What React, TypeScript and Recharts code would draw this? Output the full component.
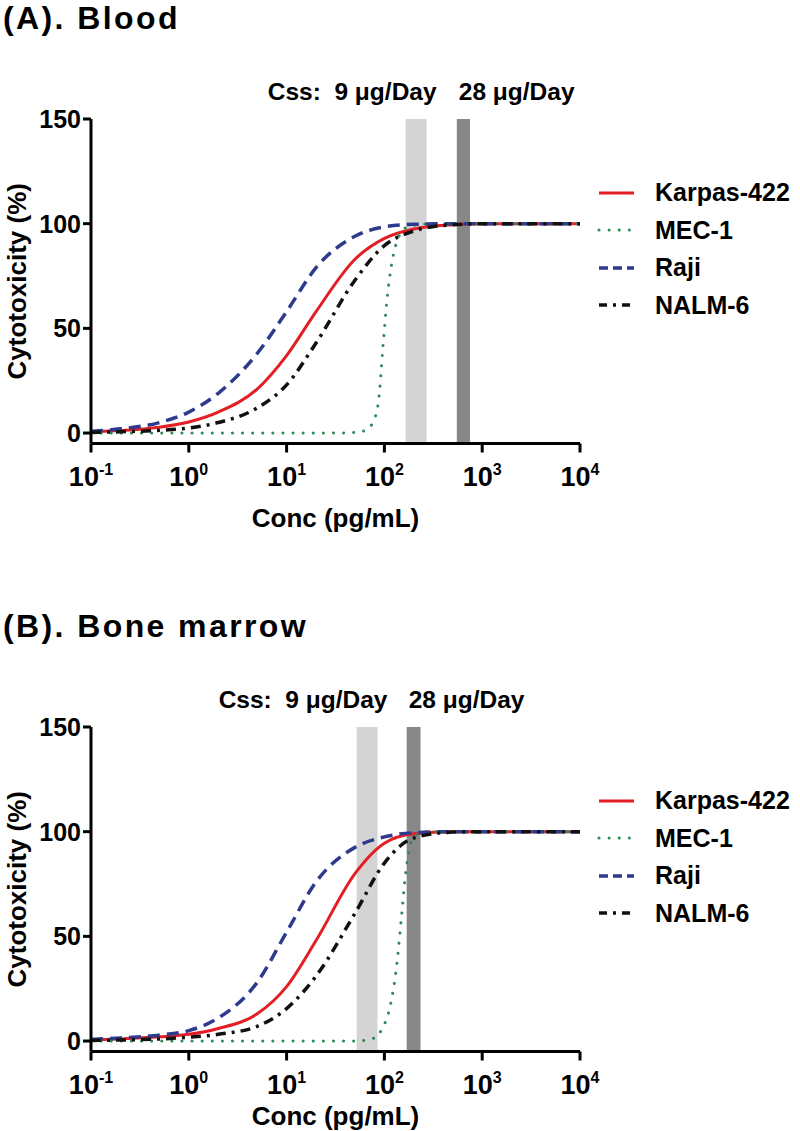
import React from 'react';
import { LineChart, Line, XAxis, YAxis, ReferenceArea, Legend } from 'recharts';

const FONT = '"Liberation Sans", Arial, Helvetica, sans-serif';

// ---------- data ----------
const xTicks = [0.1, 1, 10, 100, 1000, 10000];
const yTicks = [0, 50, 100, 150];
const seriesNames = ['Karpas-422', 'MEC-1', 'Raji', 'NALM-6'];
const doseLabels = ['Css:\u00A0 9 \u03BCg/Day', '28 \u03BCg/Day'];
const panelTitles = ['(A). Blood', '(B). Bone marrow'];

// concentration grid (pg/mL) used by the smooth curves
const CONC = [0.1, 0.2, 0.5, 1, 2, 5, 10, 20, 50, 100, 200, 500, 1000, 10000];

// (A) Blood
const bloodKarpas = [0.6, 1.2, 2.8, 5.3, 10, 21, 37, 58, 83, 93, 97.5, 99.5, 100, 100];
const bloodRaji = [0.8, 2, 5, 10, 19, 38, 58, 79, 94, 98.5, 99.7, 100, 100, 100];
const bloodNalm = [0.3, 0.6, 1.3, 2.4, 5, 12, 23, 43, 73, 89.5, 96.5, 99.5, 100, 100];
const bloodMecConc = [0.1, 1, 10, 30, 52, 65, 76, 87, 97, 107, 118, 133, 152, 175, 250, 300, 1000, 10000];
const bloodMec = [0, 0, 0, 0, 0.3, 1.5, 5, 15, 42, 65, 80, 91, 96.5, 98.5, 99.8, 100, 100, 100];
const bloodLow = [165, 270];
const bloodHigh = [550, 750];

// (B) Bone marrow
const marrowKarpas = [0.5, 1, 2, 3.2, 6, 13, 26, 48, 80, 94.5, 99, 100, 100, 100];
const marrowRaji = [0.8, 1.5, 2.8, 5, 11, 28, 52, 76, 92.5, 97.5, 99.5, 100, 100, 100];
const marrowNalm = [0.3, 0.5, 1, 1.8, 3.2, 7, 15.5, 31, 61, 85, 97, 99.8, 100, 100];
const marrowMecConc = [0.1, 1, 10, 50, 80, 95, 115, 135, 150, 165, 180, 200, 250, 300, 1000, 10000];
const marrowMec = [0, 0, 0, 0, 1.5, 6, 17, 38, 60, 80, 92, 97.5, 99.8, 100, 100, 100];
const marrowLow = [52, 85];
const marrowHigh = [169, 234];

// ---------- styles ----------
type Sty = { stroke: string; width: number; dash?: string; cap: 'round' | 'butt'; legendDash?: string };
const STYLES: Record<string, Sty> = {
  'Karpas-422': { stroke: '#e31e24', width: 3, cap: 'butt' },
  'MEC-1': { stroke: '#2e8b57', width: 3, dash: '0.1 10', cap: 'round', legendDash: '0.1 10' },
  Raji: { stroke: '#2e3a8c', width: 3.5, dash: '12 7', cap: 'butt', legendDash: '9 5' },
  'NALM-6': { stroke: '#111111', width: 3.5, dash: '10 6 3 6', cap: 'butt', legendDash: '8 6 3 6' },
};

type Series = { name: string; conc: number[]; values: number[] };

const toPoints = (conc: number[], values: number[]) => conc.map((c, i) => ({ conc: c, y: values[i] }));

const bloodSeries: Series[] = [
  { name: seriesNames[0], conc: CONC, values: bloodKarpas },
  { name: seriesNames[1], conc: bloodMecConc, values: bloodMec },
  { name: seriesNames[2], conc: CONC, values: bloodRaji },
  { name: seriesNames[3], conc: CONC, values: bloodNalm },
];
const marrowSeries: Series[] = [
  { name: seriesNames[0], conc: CONC, values: marrowKarpas },
  { name: seriesNames[1], conc: marrowMecConc, values: marrowMec },
  { name: seriesNames[2], conc: CONC, values: marrowRaji },
  { name: seriesNames[3], conc: CONC, values: marrowNalm },
];

// ---------- custom renderers ----------
const XTick = (props: any) => {
  const { x, y, payload } = props;
  const exp = Math.round(Math.log10(payload.value));
  return (
    <text x={x} y={y + 33.5} textAnchor="middle" fontFamily={FONT} fontWeight="bold" fontSize={27} fill="#000">
      <tspan>10</tspan>
      <tspan dy={-11} fontSize={16}>{String(exp)}</tspan>
    </text>
  );
};

const YTick = (props: any) => {
  const { x, y, payload } = props;
  return (
    <text x={x} y={y} dy={9} textAnchor="end" fontFamily={FONT} fontWeight="bold" fontSize={25} fill="#000">
      {payload.value}
    </text>
  );
};

const makeXLabel = (offset: number) => (props: any) => {
  const vb = props.viewBox;
  return (
    <text x={vb.x + vb.width / 2} y={vb.y + offset} textAnchor="middle" fontFamily={FONT} fontWeight="bold" fontSize={26} fill="#000">
      Conc (pg/mL)
    </text>
  );
};

const YLabel = (props: any) => {
  const vb = props.viewBox;
  const cx = 17;
  const cy = vb.y + vb.height / 2;
  return (
    <text
      x={cx}
      y={cy}
      transform={`rotate(-90 ${cx} ${cy})`}
      textAnchor="middle"
      dominantBaseline="central"
      fontFamily={FONT}
      fontWeight="bold"
      fontSize={26}
      fill="#000"
    >
      Cytotoxicity (%)
    </text>
  );
};

const LowLabel = (props: any) => {
  const vb = props.viewBox;
  return (
    <text x={vb.x + vb.width + 10} y={vb.y - 19} textAnchor="end" fontFamily={FONT} fontWeight="bold" fontSize={24.5} fill="#000">
      {doseLabels[0]}
    </text>
  );
};

const HighLabel = (props: any) => {
  const vb = props.viewBox;
  return (
    <text x={vb.x + 2} y={vb.y - 19} textAnchor="start" fontFamily={FONT} fontWeight="bold" fontSize={24.5} fill="#000">
      {doseLabels[1]}
    </text>
  );
};

const makeLegend = (series: Series[]) => () => (
  <div style={{ fontFamily: FONT, fontWeight: 'bold', fontSize: 25, color: '#000' }}>
    {series.map((s) => {
      const st = STYLES[s.name];
      return (
        <div key={s.name} style={{ height: 37.5, display: 'flex', alignItems: 'center' }}>
          <svg width={60} height={10} style={{ flex: 'none', display: 'block' }}>
            <line
              x1={4}
              x2={39}
              y1={5}
              y2={5}
              stroke={st.stroke}
              strokeWidth={st.width}
              strokeDasharray={st.legendDash}
              strokeLinecap={st.cap}
            />
          </svg>
          <span style={{ lineHeight: '37.5px', whiteSpace: 'nowrap' }}>{s.name}</span>
        </div>
      );
    })}
  </div>
);

type PanelProps = {
  top: number;
  height: number;
  title: string;
  series: Series[];
  low: number[];
  high: number[];
  xLabelOffset: number;
};

function Panel({ top, height, title, series, low, high, xLabelOffset }: PanelProps) {
  const plotTop = 119;
  const plotH = 324.5;
  const xAxisH = 70;
  const marginBottom = height - plotTop - plotH - xAxisH;
  return (
    <div style={{ position: 'absolute', left: 0, top, width: 800, height }}>
      <LineChart
        width={800}
        height={height}
        margin={{ top: plotTop, right: 220, bottom: marginBottom, left: 31 }}
      >
        <XAxis
          dataKey="conc"
          type="number"
          scale="log"
          domain={[0.1, 10000]}
          ticks={xTicks}
          interval={0}
          height={xAxisH}
          axisLine={{ stroke: '#000', strokeWidth: 3 }}
          tickLine={{ stroke: '#000', strokeWidth: 3 }}
          tickSize={9}
          tickMargin={0}
          tick={XTick}
          label={makeXLabel(xLabelOffset)}
        />
        <YAxis
          type="number"
          domain={[-5, 150]}
          ticks={yTicks}
          interval={0}
          width={60}
          axisLine={{ stroke: '#000', strokeWidth: 3 }}
          tickLine={{ stroke: '#000', strokeWidth: 3 }}
          tickSize={8}
          tickMargin={2}
          tick={YTick}
          label={YLabel}
        />
        <ReferenceArea x1={low[0]} x2={low[1]} fill="#d4d4d4" fillOpacity={1} stroke="none" label={LowLabel} />
        <ReferenceArea x1={high[0]} x2={high[1]} fill="#878787" fillOpacity={1} stroke="none" label={HighLabel} />
        {series.map((s) => {
          const st = STYLES[s.name];
          return (
            <Line
              key={s.name}
              name={s.name}
              data={toPoints(s.conc, s.values)}
              dataKey="y"
              type="monotone"
              stroke={st.stroke}
              strokeWidth={st.width}
              strokeDasharray={st.dash}
              strokeLinecap={st.cap}
              dot={false}
              activeDot={false}
              isAnimationActive={false}
            />
          );
        })}
        <Legend
          layout="vertical"
          align="center"
          verticalAlign="middle"
          wrapperStyle={{ left: 595, top: 174, width: 205, height: 155 }}
          content={makeLegend(series)}
        />
      </LineChart>
      <div
        style={{
          position: 'absolute',
          left: 3,
          top: 0,
          fontFamily: FONT,
          fontWeight: 'bold',
          fontSize: 32,
          letterSpacing: 2.4,
          lineHeight: '36px',
          whiteSpace: 'nowrap',
          color: '#000',
        }}
      >
        {title}
      </div>
    </div>
  );
}

export default function App() {
  return (
    <div style={{ position: 'absolute', left: 0, top: 0, width: 800, height: 1131, overflow: 'hidden', background: '#fff' }}>
      <Panel top={0} height={600} title={panelTitles[0]} series={bloodSeries} low={bloodLow} high={bloodHigh} xLabelOffset={83.5} />
      <Panel top={608} height={523} title={panelTitles[1]} series={marrowSeries} low={marrowLow} high={marrowHigh} xLabelOffset={73} />
    </div>
  );
}
